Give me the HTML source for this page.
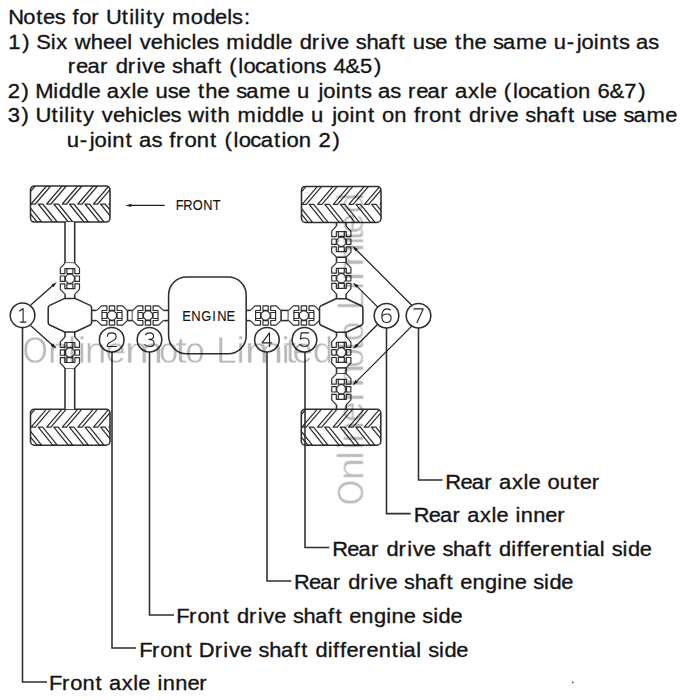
<!DOCTYPE html><html><head><meta charset="utf-8"><style>html,body{margin:0;padding:0;background:#fff;width:700px;height:700px;overflow:hidden}svg{display:block}text{font-family:"Liberation Sans",sans-serif}</style></head><body>
<svg width="700" height="700" viewBox="0 0 700 700">
<defs><g id="uj" fill="none" stroke="#2e2e2e" stroke-width="1.2" stroke-linejoin="round">
<path d="M-4.8,-15.6 L-4.8,-15.4 L-9.6,-10.3 L-9.6,9.6 L-4.8,15.4 L4.8,15.4 L9.6,10.3 L9.6,-10.3 L4.8,-15.4 Z" fill="#fff" stroke="none"/>
<path d="M-4.9,-15.5 L-9.6,-10.6 L-9.6,-5.1 L-5.0,-5.1 L-5.0,-10.0 L5.0,-10.0 L5.0,-5.1 L9.6,-5.1 L9.6,-10.6 L4.9,-15.5"/>
<path d="M-4.9,15.5 L-9.6,10.6 L-9.6,5.1 L-5.0,5.1 L-5.0,10.0 L5.0,10.0 L5.0,5.1 L9.6,5.1 L9.6,10.6 L4.9,15.5"/>
<g stroke-width="1.15">
<path d="M-3,-10 L-3,-5.1 L3,-5.1 L3,-10"/>
<path d="M-3,10 L-3,5.1 L3,5.1 L3,10"/>
<rect x="-9.6" y="-2.7" width="4.5" height="5.4"/>
<rect x="5.1" y="-2.7" width="4.5" height="5.4"/>
<path d="M-1.9,-4.5 L1.9,-4.5 L4.5,-1.9 L4.5,1.9 L1.9,4.5 L-1.9,4.5 L-4.5,1.9 L-4.5,-1.9 Z"/>
</g>
</g></defs>
<text transform="scale(1.06,1)" x="7.71 22.06 34.19 40.65 51.71 61.64 68.45 74.67 86.10 94.04 99.96 114.97 121.86 126.97 132.10 137.67 144.64 155.33 162.35 179.94 191.65 202.80 214.34 218.98 230.28" y="23.8" font-size="20.66" fill="#141414" stroke="#141414" stroke-width="0.33">Notes for Utility models:</text>
<text transform="scale(1.06,1)" x="7.73 21.10 28.21 34.27 47.82 53.03 63.75 70.48 85.73 97.28 108.42 119.98 124.86 131.78 142.32 153.74 165.73 170.12 180.60 185.30 196.38 206.35 213.38 231.38 236.54 248.19 259.80 264.50 275.81 282.68 294.05 302.28 307.49 318.04 329.34 335.70 345.77 356.91 368.97 376.02 382.66 389.41 400.85 410.64 421.95 429.25 436.00 447.55 458.86 465.21 474.59 486.86 504.42 515.73 522.47 534.71 544.05 548.54 560.24 565.24 577.66 584.08 594.04 600.03 611.62" y="48.6" font-size="20.71" fill="#141414" stroke="#141414" stroke-width="0.33">1) Six wheel vehicles middle drive shaft use the same u-joints as</text>
<text transform="scale(1.06,1)" x="63.89 71.69 82.45 94.32 102.30 109.19 120.60 128.84 134.08 144.65 155.99 162.36 172.46 183.63 195.72 202.79 209.46 216.26 224.82 229.62 240.61 250.27 262.85 269.78 274.57 286.18 297.68 307.67 314.51 325.68 339.64 352.74" y="73.1" font-size="20.77" fill="#141414" stroke="#141414" stroke-width="0.33">rear drive shaft (locations 4&amp;5)</text>
<text transform="scale(1.06,1)" x="7.26 20.38 27.51 33.36 50.20 55.37 67.06 78.70 83.42 94.76 100.77 112.97 123.98 128.70 140.04 146.81 158.28 168.10 179.45 186.77 193.54 205.13 216.48 222.85 232.25 244.57 262.18 273.52 280.29 291.98 300.45 304.95 316.69 321.71 334.16 340.60 350.60 356.60 368.23 378.23 384.85 392.65 403.41 415.29 423.27 429.27 441.48 452.49 457.20 468.54 475.35 483.92 488.72 499.71 509.37 521.95 528.88 533.67 545.29 557.01 563.72 575.03 588.97 602.10" y="97.7" font-size="20.78" fill="#141414" stroke="#141414" stroke-width="0.33">2) Middle axle use the same u joints as rear axle (location 6&amp;7)</text>
<text transform="scale(1.06,1)" x="7.32 20.37 27.50 33.45 48.53 55.45 60.58 65.74 71.33 78.34 89.08 96.02 106.59 118.03 130.05 134.44 144.94 149.65 160.76 170.75 177.49 192.93 198.53 205.30 217.04 224.09 242.12 247.29 258.97 270.61 275.32 286.65 293.41 305.09 313.55 318.05 329.77 334.79 347.23 353.89 360.39 371.99 383.70 390.54 396.91 404.79 416.39 428.83 435.49 442.38 453.78 462.02 467.25 477.81 489.14 495.51 505.60 516.76 528.85 535.92 542.57 549.33 560.80 570.61 581.94 588.31 597.71 610.01 627.60" y="122.4" font-size="20.76" fill="#141414" stroke="#141414" stroke-width="0.33">3) Utility vehicles with middle u joint on front drive shaft use same</text>
<text transform="scale(1.06,1)" x="62.90 75.22 84.63 89.14 100.92 105.96 118.46 125.15 131.18 142.85 152.88 159.75 166.14 174.06 185.72 198.22 204.90 211.74 220.33 225.15 236.18 245.88 258.50 265.46 270.27 281.92 293.69 300.50 313.67" y="147.0" font-size="20.85" fill="#141414" stroke="#141414" stroke-width="0.33">u-joint as front (location 2)</text>
<path d="M22.5,327.5 L22.5,682 L47,682" fill="none" stroke="#2e2e2e" stroke-width="1.55"/>
<text transform="scale(1.06,1)" x="46.27 58.39 66.23 77.76 90.13 96.75 102.72 114.84 125.78 130.46 141.73 148.55 153.53 165.32 176.80 188.10" y="690.4" font-size="20.64" fill="#141414" stroke="#141414" stroke-width="0.33">Front axle inner</text>
<path d="M112,352 L112,648 L136,648" fill="none" stroke="#2e2e2e" stroke-width="1.55"/>
<text transform="scale(1.06,1)" x="131.26 143.36 151.19 162.70 175.06 181.67 187.57 202.55 210.74 215.93 226.41 237.66 243.98 254.00 265.08 277.08 284.10 290.71 297.54 309.11 314.19 320.73 326.85 338.13 345.87 357.26 369.62 376.49 380.75 392.76 397.61 403.92 414.10 419.24 430.36" y="656.8" font-size="20.61" fill="#141414" stroke="#141414" stroke-width="0.33">Front Drive shaft differential side</text>
<path d="M149.5,352 L149.5,615 L174,615" fill="none" stroke="#2e2e2e" stroke-width="1.55"/>
<text transform="scale(1.06,1)" x="166.26 178.37 186.21 197.74 210.10 216.72 223.56 234.89 243.08 248.28 258.78 270.04 276.36 286.40 297.49 309.50 316.53 323.14 329.52 340.92 352.86 364.44 369.42 380.89 392.15 398.48 408.67 413.81 424.95" y="623.1" font-size="20.63" fill="#141414" stroke="#141414" stroke-width="0.33">Front drive shaft engine side</text>
<path d="M267,352 L267,581 L291.4,581" fill="none" stroke="#2e2e2e" stroke-width="1.55"/>
<text transform="scale(1.06,1)" x="277.33 291.41 302.07 313.83 321.74 328.57 339.87 348.04 353.23 363.70 374.94 381.25 391.26 402.32 414.31 421.32 427.92 434.28 445.66 457.57 469.12 474.09 485.54 496.77 503.09 513.25 518.38 529.49" y="589.3" font-size="20.58" fill="#141414" stroke="#141414" stroke-width="0.33">Rear drive shaft engine side</text>
<path d="M305,352 L305,547.4 L329.3,547.4" fill="none" stroke="#2e2e2e" stroke-width="1.55"/>
<text transform="scale(1.06,1)" x="313.46 327.54 338.20 349.96 357.86 364.68 375.99 384.16 389.34 399.81 411.04 417.35 427.36 438.42 450.41 457.41 464.01 470.84 482.38 487.46 493.99 500.10 511.36 519.09 530.47 542.80 549.67 553.92 565.91 570.75 577.06 587.23 592.35 603.46" y="555.7" font-size="20.58" fill="#141414" stroke="#141414" stroke-width="0.33">Rear drive shaft differential side</text>
<path d="M386.5,328 L386.5,513.6 L410.7,513.6" fill="none" stroke="#2e2e2e" stroke-width="1.55"/>
<text transform="scale(1.06,1)" x="390.44 404.50 415.15 426.89 434.79 440.73 452.80 463.69 468.35 479.57 486.36 491.33 503.07 514.50 525.75" y="522.1" font-size="20.55" fill="#141414" stroke="#141414" stroke-width="0.33">Rear axle inner</text>
<path d="M418.5,328 L418.5,480 L442.6,480" fill="none" stroke="#2e2e2e" stroke-width="1.55"/>
<text transform="scale(1.06,1)" x="420.16 434.33 445.06 456.90 464.86 470.85 483.02 493.99 498.70 510.01 516.50 528.11 540.50 546.97 558.31" y="488.6" font-size="20.72" fill="#141414" stroke="#141414" stroke-width="0.33">Rear axle outer</text>
<clipPath id="t1"><rect x="30.5" y="186" width="79.5" height="36" rx="4"/></clipPath>
<g clip-path="url(#t1)" fill="none" stroke="#2e2e2e" stroke-width="1.25" stroke-linejoin="round">
<path d="M-0.10,204.00 L4.10,204.00 L19.50,186.00 L15.30,186.00 Z"/>
<path d="M7.00,204.00 L11.50,204.00 L26.00,222.00 L21.50,222.00 Z"/>
<path d="M15.50,204.00 L19.70,204.00 L35.10,186.00 L30.90,186.00 Z"/>
<path d="M22.60,204.00 L27.10,204.00 L41.60,222.00 L37.10,222.00 Z"/>
<path d="M31.10,204.00 L35.30,204.00 L50.70,186.00 L46.50,186.00 Z"/>
<path d="M38.20,204.00 L42.70,204.00 L57.20,222.00 L52.70,222.00 Z"/>
<path d="M46.70,204.00 L50.90,204.00 L66.30,186.00 L62.10,186.00 Z"/>
<path d="M53.80,204.00 L58.30,204.00 L72.80,222.00 L68.30,222.00 Z"/>
<path d="M62.30,204.00 L66.50,204.00 L81.90,186.00 L77.70,186.00 Z"/>
<path d="M69.40,204.00 L73.90,204.00 L88.40,222.00 L83.90,222.00 Z"/>
<path d="M77.90,204.00 L82.10,204.00 L97.50,186.00 L93.30,186.00 Z"/>
<path d="M85.00,204.00 L89.50,204.00 L104.00,222.00 L99.50,222.00 Z"/>
<path d="M93.50,204.00 L97.70,204.00 L113.10,186.00 L108.90,186.00 Z"/>
<path d="M100.60,204.00 L105.10,204.00 L119.60,222.00 L115.10,222.00 Z"/>
<path d="M109.10,204.00 L113.30,204.00 L128.70,186.00 L124.50,186.00 Z"/>
<path d="M116.20,204.00 L120.70,204.00 L135.20,222.00 L130.70,222.00 Z"/>
<path d="M124.70,204.00 L128.90,204.00 L144.30,186.00 L140.10,186.00 Z"/>
<path d="M131.80,204.00 L136.30,204.00 L150.80,222.00 L146.30,222.00 Z"/>
</g>
<rect x="30.5" y="186" width="79.5" height="36" rx="4" fill="none" stroke="#2e2e2e" stroke-width="1.55"/>
<clipPath id="t2"><rect x="30.5" y="409.2" width="79.5" height="36" rx="4"/></clipPath>
<g clip-path="url(#t2)" fill="none" stroke="#2e2e2e" stroke-width="1.25" stroke-linejoin="round">
<path d="M-0.10,427.20 L4.10,427.20 L19.50,409.20 L15.30,409.20 Z"/>
<path d="M7.00,427.20 L11.50,427.20 L26.00,445.20 L21.50,445.20 Z"/>
<path d="M15.50,427.20 L19.70,427.20 L35.10,409.20 L30.90,409.20 Z"/>
<path d="M22.60,427.20 L27.10,427.20 L41.60,445.20 L37.10,445.20 Z"/>
<path d="M31.10,427.20 L35.30,427.20 L50.70,409.20 L46.50,409.20 Z"/>
<path d="M38.20,427.20 L42.70,427.20 L57.20,445.20 L52.70,445.20 Z"/>
<path d="M46.70,427.20 L50.90,427.20 L66.30,409.20 L62.10,409.20 Z"/>
<path d="M53.80,427.20 L58.30,427.20 L72.80,445.20 L68.30,445.20 Z"/>
<path d="M62.30,427.20 L66.50,427.20 L81.90,409.20 L77.70,409.20 Z"/>
<path d="M69.40,427.20 L73.90,427.20 L88.40,445.20 L83.90,445.20 Z"/>
<path d="M77.90,427.20 L82.10,427.20 L97.50,409.20 L93.30,409.20 Z"/>
<path d="M85.00,427.20 L89.50,427.20 L104.00,445.20 L99.50,445.20 Z"/>
<path d="M93.50,427.20 L97.70,427.20 L113.10,409.20 L108.90,409.20 Z"/>
<path d="M100.60,427.20 L105.10,427.20 L119.60,445.20 L115.10,445.20 Z"/>
<path d="M109.10,427.20 L113.30,427.20 L128.70,409.20 L124.50,409.20 Z"/>
<path d="M116.20,427.20 L120.70,427.20 L135.20,445.20 L130.70,445.20 Z"/>
<path d="M124.70,427.20 L128.90,427.20 L144.30,409.20 L140.10,409.20 Z"/>
<path d="M131.80,427.20 L136.30,427.20 L150.80,445.20 L146.30,445.20 Z"/>
</g>
<rect x="30.5" y="409.2" width="79.5" height="36" rx="4" fill="none" stroke="#2e2e2e" stroke-width="1.55"/>
<rect x="65" y="222" width="9.7" height="41.2" fill="#fff" stroke="none"/>
<path d="M65,222 L65,263.2" stroke="#2e2e2e" stroke-width="1.55" fill="none"/><path d="M74.7,222 L74.7,263.2" stroke="#2e2e2e" stroke-width="1.55" fill="none"/><path d="M65,263.2 L74.7,263.2" stroke="#2e2e2e" stroke-width="1.55" fill="none"/>
<rect x="65" y="367.9" width="9.7" height="41.3" fill="#fff" stroke="none"/>
<path d="M65,367.9 L65,409.2" stroke="#2e2e2e" stroke-width="1.55" fill="none"/><path d="M74.7,367.9 L74.7,409.2" stroke="#2e2e2e" stroke-width="1.55" fill="none"/><path d="M65,367.9 L74.7,367.9" stroke="#2e2e2e" stroke-width="1.55" fill="none"/>
<use href="#uj" x="69.9" y="278.7"/>
<use href="#uj" x="69.9" y="352.5"/>
<path d="M65.1,294.2 L65.1,299" stroke="#2e2e2e" stroke-width="1.55" fill="none"/><path d="M74.7,294.2 L74.7,299" stroke="#2e2e2e" stroke-width="1.55" fill="none"/>
<path d="M65.1,332 L65.1,337" stroke="#2e2e2e" stroke-width="1.55" fill="none"/><path d="M74.7,332 L74.7,337" stroke="#2e2e2e" stroke-width="1.55" fill="none"/>
<path d="M64.7,298.4 L75.10000000000001,298.4 L90.10000000000001,305.4 Q91.60000000000001,306.4 91.60000000000001,307.9 L91.60000000000001,322.5 Q91.60000000000001,324.0 90.10000000000001,325.0 L75.10000000000001,332.0 L64.7,332.0 L49.7,325.0 Q48.2,324.0 48.2,322.5 L48.2,307.9 Q48.2,306.4 49.7,305.4 Z" fill="#fff" stroke="#2e2e2e" stroke-width="1.55" stroke-linejoin="round"/>
<path d="M91.5,310.4 L96.5,310.4" stroke="#2e2e2e" stroke-width="1.55" fill="none"/><path d="M91.5,320.6 L96.5,320.6" stroke="#2e2e2e" stroke-width="1.55" fill="none"/>
<use href="#uj" transform="translate(112,315.5) rotate(90)"/>
<path d="M127.5,310.4 L132.5,310.4" stroke="#2e2e2e" stroke-width="1.55" fill="none"/><path d="M127.5,320.6 L132.5,320.6" stroke="#2e2e2e" stroke-width="1.55" fill="none"/><path d="M127.5,310.4 L127.5,320.6" stroke="#2e2e2e" stroke-width="1.55" fill="none"/><path d="M132.5,310.4 L132.5,320.6" stroke="#2e2e2e" stroke-width="1.55" fill="none"/>
<use href="#uj" transform="translate(148,315.5) rotate(90)"/>
<path d="M163.5,310.4 L168.6,310.4" stroke="#2e2e2e" stroke-width="1.55" fill="none"/><path d="M163.5,320.6 L168.6,320.6" stroke="#2e2e2e" stroke-width="1.55" fill="none"/>
<rect x="168.6" y="277" width="77.6" height="76.7" rx="18" fill="#fff" stroke="#2e2e2e" stroke-width="1.55"/>
<text transform="scale(0.9,1)" x="202.52 212.62 223.68 235.97 241.43 251.77" y="320.6" font-size="14.40" fill="#141414" stroke="#141414" stroke-width="0.12">ENGINE</text>
<path d="M246.2,310.4 L250.1,310.4" stroke="#2e2e2e" stroke-width="1.55" fill="none"/><path d="M246.2,320.6 L250.1,320.6" stroke="#2e2e2e" stroke-width="1.55" fill="none"/>
<use href="#uj" transform="translate(265.6,315.5) rotate(90)"/>
<path d="M281.1,310.4 L288.4,310.4" stroke="#2e2e2e" stroke-width="1.55" fill="none"/><path d="M281.1,320.6 L288.4,320.6" stroke="#2e2e2e" stroke-width="1.55" fill="none"/><path d="M281.1,310.4 L281.1,320.6" stroke="#2e2e2e" stroke-width="1.55" fill="none"/><path d="M288.4,310.4 L288.4,320.6" stroke="#2e2e2e" stroke-width="1.55" fill="none"/>
<use href="#uj" transform="translate(303.9,315.5) rotate(90)"/>
<path d="M319.4,310.4 L320,310.4" stroke="#2e2e2e" stroke-width="1.55" fill="none"/><path d="M319.4,320.6 L320,320.6" stroke="#2e2e2e" stroke-width="1.55" fill="none"/>
<clipPath id="t3"><rect x="301.5" y="186.4" width="79.5" height="36" rx="4"/></clipPath>
<g clip-path="url(#t3)" fill="none" stroke="#2e2e2e" stroke-width="1.25" stroke-linejoin="round">
<path d="M270.90,204.40 L275.10,204.40 L290.50,186.40 L286.30,186.40 Z"/>
<path d="M278.00,204.40 L282.50,204.40 L297.00,222.40 L292.50,222.40 Z"/>
<path d="M286.50,204.40 L290.70,204.40 L306.10,186.40 L301.90,186.40 Z"/>
<path d="M293.60,204.40 L298.10,204.40 L312.60,222.40 L308.10,222.40 Z"/>
<path d="M302.10,204.40 L306.30,204.40 L321.70,186.40 L317.50,186.40 Z"/>
<path d="M309.20,204.40 L313.70,204.40 L328.20,222.40 L323.70,222.40 Z"/>
<path d="M317.70,204.40 L321.90,204.40 L337.30,186.40 L333.10,186.40 Z"/>
<path d="M324.80,204.40 L329.30,204.40 L343.80,222.40 L339.30,222.40 Z"/>
<path d="M333.30,204.40 L337.50,204.40 L352.90,186.40 L348.70,186.40 Z"/>
<path d="M340.40,204.40 L344.90,204.40 L359.40,222.40 L354.90,222.40 Z"/>
<path d="M348.90,204.40 L353.10,204.40 L368.50,186.40 L364.30,186.40 Z"/>
<path d="M356.00,204.40 L360.50,204.40 L375.00,222.40 L370.50,222.40 Z"/>
<path d="M364.50,204.40 L368.70,204.40 L384.10,186.40 L379.90,186.40 Z"/>
<path d="M371.60,204.40 L376.10,204.40 L390.60,222.40 L386.10,222.40 Z"/>
<path d="M380.10,204.40 L384.30,204.40 L399.70,186.40 L395.50,186.40 Z"/>
<path d="M387.20,204.40 L391.70,204.40 L406.20,222.40 L401.70,222.40 Z"/>
<path d="M395.70,204.40 L399.90,204.40 L415.30,186.40 L411.10,186.40 Z"/>
<path d="M402.80,204.40 L407.30,204.40 L421.80,222.40 L417.30,222.40 Z"/>
</g>
<rect x="301.5" y="186.4" width="79.5" height="36" rx="4" fill="none" stroke="#2e2e2e" stroke-width="1.55"/>
<clipPath id="t4"><rect x="301.3" y="409.2" width="79.5" height="36" rx="4"/></clipPath>
<g clip-path="url(#t4)" fill="none" stroke="#2e2e2e" stroke-width="1.25" stroke-linejoin="round">
<path d="M270.70,427.20 L274.90,427.20 L290.30,409.20 L286.10,409.20 Z"/>
<path d="M277.80,427.20 L282.30,427.20 L296.80,445.20 L292.30,445.20 Z"/>
<path d="M286.30,427.20 L290.50,427.20 L305.90,409.20 L301.70,409.20 Z"/>
<path d="M293.40,427.20 L297.90,427.20 L312.40,445.20 L307.90,445.20 Z"/>
<path d="M301.90,427.20 L306.10,427.20 L321.50,409.20 L317.30,409.20 Z"/>
<path d="M309.00,427.20 L313.50,427.20 L328.00,445.20 L323.50,445.20 Z"/>
<path d="M317.50,427.20 L321.70,427.20 L337.10,409.20 L332.90,409.20 Z"/>
<path d="M324.60,427.20 L329.10,427.20 L343.60,445.20 L339.10,445.20 Z"/>
<path d="M333.10,427.20 L337.30,427.20 L352.70,409.20 L348.50,409.20 Z"/>
<path d="M340.20,427.20 L344.70,427.20 L359.20,445.20 L354.70,445.20 Z"/>
<path d="M348.70,427.20 L352.90,427.20 L368.30,409.20 L364.10,409.20 Z"/>
<path d="M355.80,427.20 L360.30,427.20 L374.80,445.20 L370.30,445.20 Z"/>
<path d="M364.30,427.20 L368.50,427.20 L383.90,409.20 L379.70,409.20 Z"/>
<path d="M371.40,427.20 L375.90,427.20 L390.40,445.20 L385.90,445.20 Z"/>
<path d="M379.90,427.20 L384.10,427.20 L399.50,409.20 L395.30,409.20 Z"/>
<path d="M387.00,427.20 L391.50,427.20 L406.00,445.20 L401.50,445.20 Z"/>
<path d="M395.50,427.20 L399.70,427.20 L415.10,409.20 L410.90,409.20 Z"/>
<path d="M402.60,427.20 L407.10,427.20 L421.60,445.20 L417.10,445.20 Z"/>
</g>
<rect x="301.3" y="409.2" width="79.5" height="36" rx="4" fill="none" stroke="#2e2e2e" stroke-width="1.55"/>
<path d="M336.5,222.4 L336.5,226.2" stroke="#2e2e2e" stroke-width="1.55" fill="none"/><path d="M346.1,222.4 L346.1,226.2" stroke="#2e2e2e" stroke-width="1.55" fill="none"/>
<use href="#uj" x="341.3" y="241.7"/>
<path d="M336.5,257.2 L336.5,262.8" stroke="#2e2e2e" stroke-width="1.55" fill="none"/><path d="M346.1,257.2 L346.1,262.8" stroke="#2e2e2e" stroke-width="1.55" fill="none"/><path d="M336.5,257.2 L346.1,257.2" stroke="#2e2e2e" stroke-width="1.55" fill="none"/><path d="M336.5,262.8 L346.1,262.8" stroke="#2e2e2e" stroke-width="1.55" fill="none"/>
<use href="#uj" x="341.3" y="278.3"/>
<path d="M336.5,293.8 L336.5,299" stroke="#2e2e2e" stroke-width="1.55" fill="none"/><path d="M346.1,293.8 L346.1,299" stroke="#2e2e2e" stroke-width="1.55" fill="none"/>
<path d="M336.0,298.7 L346.4,298.7 L361.4,305.7 Q362.9,306.7 362.9,308.2 L362.9,322.8 Q362.9,324.3 361.4,325.3 L346.4,332.3 L336.0,332.3 L321.0,325.3 Q319.5,324.3 319.5,322.8 L319.5,308.2 Q319.5,306.7 321.0,305.7 Z" fill="#fff" stroke="#2e2e2e" stroke-width="1.55" stroke-linejoin="round"/>
<path d="M336.5,332 L336.5,336.9" stroke="#2e2e2e" stroke-width="1.55" fill="none"/><path d="M346.1,332 L346.1,336.9" stroke="#2e2e2e" stroke-width="1.55" fill="none"/>
<use href="#uj" x="341.3" y="352.4"/>
<path d="M336.5,367.9 L336.5,373.8" stroke="#2e2e2e" stroke-width="1.55" fill="none"/><path d="M346.1,367.9 L346.1,373.8" stroke="#2e2e2e" stroke-width="1.55" fill="none"/><path d="M336.5,367.9 L346.1,367.9" stroke="#2e2e2e" stroke-width="1.55" fill="none"/><path d="M336.5,373.8 L346.1,373.8" stroke="#2e2e2e" stroke-width="1.55" fill="none"/>
<use href="#uj" x="341.3" y="389.3"/>
<path d="M336.5,404.8 L336.5,409.4" stroke="#2e2e2e" stroke-width="1.55" fill="none"/><path d="M346.1,404.8 L346.1,409.4" stroke="#2e2e2e" stroke-width="1.55" fill="none"/>
<path d="M164.7,205.4 L130.3,205.4" stroke="#1e1e1e" stroke-width="1.2" fill="none"/><path d="M125.30,205.40 L131.30,203.70 L131.30,207.10 Z" fill="#1e1e1e"/>
<text transform="scale(0.9,1)" x="195.33 203.74 214.30 225.77 236.42" y="210.4" font-size="14.29" fill="#141414" stroke="#141414" stroke-width="0.12">FRONT</text>
<path d="M30.8,305 L53.055017187548096,285.31286941101513" stroke="#1e1e1e" stroke-width="1.2" fill="none"/><path d="M56.80,282.00 L53.43,287.25 L51.18,284.70 Z" fill="#1e1e1e"/>
<path d="M30.8,325.8 L52.86774606793967,345.47279688227184" stroke="#1e1e1e" stroke-width="1.2" fill="none"/><path d="M56.60,348.80 L50.99,346.08 L53.25,343.54 Z" fill="#1e1e1e"/>
<path d="M383,312.4 L356.5355339059327,285.9355339059327" stroke="#1e1e1e" stroke-width="1.2" fill="none"/><path d="M353.00,282.40 L358.44,285.44 L356.04,287.84 Z" fill="#1e1e1e"/>
<path d="M383,319 L356.5355339059327,345.4644660940673" stroke="#1e1e1e" stroke-width="1.2" fill="none"/><path d="M353.00,349.00 L356.04,343.56 L358.44,345.96 Z" fill="#1e1e1e"/>
<path d="M414.5,308 L356.0355339059327,249.53553390593274" stroke="#1e1e1e" stroke-width="1.2" fill="none"/><path d="M352.50,246.00 L357.94,249.04 L355.54,251.44 Z" fill="#1e1e1e"/>
<path d="M414.5,323.4 L356.0355339059327,381.86446609406727" stroke="#1e1e1e" stroke-width="1.2" fill="none"/><path d="M352.50,385.40 L355.54,379.96 L357.94,382.36 Z" fill="#1e1e1e"/>
<circle cx="22.55" cy="315.3" r="12.3" fill="#fff" stroke="#2e2e2e" stroke-width="1.55"/><path transform="translate(22.55,315.3) scale(0.93)" d="M-3.2,-4.6 L0.6,-7.3 L0.6,7.3 M-2.4,7.3 L3.6,7.3" fill="none" stroke="#222" stroke-width="1.2" stroke-linecap="round" stroke-linejoin="round"/>
<circle cx="111.7" cy="339.7" r="12.3" fill="#fff" stroke="#2e2e2e" stroke-width="1.55"/><path transform="translate(111.7,339.7) scale(0.93)" d="M-4.6,-3.6 C-4.6,-6.2 -2.6,-7.3 0,-7.3 C2.9,-7.3 4.8,-5.7 4.8,-3.3 C4.8,-0.6 2.2,0.8 -0.8,2.3 C-3.8,3.8 -4.9,5.2 -4.9,7.3 L5.2,7.3" fill="none" stroke="#222" stroke-width="1.2" stroke-linecap="round" stroke-linejoin="round"/>
<circle cx="149.5" cy="339.7" r="12.3" fill="#fff" stroke="#2e2e2e" stroke-width="1.55"/><path transform="translate(149.5,339.7) scale(0.93)" d="M-4.4,-5.4 C-3.6,-6.7 -1.8,-7.3 0.2,-7.3 C2.8,-7.3 4.4,-5.8 4.4,-3.8 C4.4,-1.6 2.5,-0.3 -0.6,-0.3 M-0.6,-0.3 C3,-0.3 4.9,1.4 4.9,3.7 C4.9,6 2.8,7.3 0,7.3 C-2.2,7.3 -4,6.6 -5,5.2" fill="none" stroke="#222" stroke-width="1.2" stroke-linecap="round" stroke-linejoin="round"/>
<circle cx="266.9" cy="339.7" r="12.3" fill="#fff" stroke="#2e2e2e" stroke-width="1.55"/><path transform="translate(266.9,339.7) scale(0.93)" d="M2.8,7.4 L2.8,-7.3 L-5.2,3.4 L5.4,3.4" fill="none" stroke="#222" stroke-width="1.2" stroke-linecap="round" stroke-linejoin="round"/>
<circle cx="304.5" cy="339.7" r="12.3" fill="#fff" stroke="#2e2e2e" stroke-width="1.55"/><path transform="translate(304.5,339.7) scale(0.93)" d="M4.4,-7.3 L-3.6,-7.3 L-4.3,-0.6 C-3.1,-1.5 -1.6,-1.9 0,-1.9 C3,-1.9 5,0.2 5,2.8 C5,5.5 2.8,7.3 0,7.3 C-2,7.3 -3.9,6.6 -5,5.1" fill="none" stroke="#222" stroke-width="1.2" stroke-linecap="round" stroke-linejoin="round"/>
<circle cx="386.5" cy="315.7" r="12.3" fill="#fff" stroke="#2e2e2e" stroke-width="1.55"/><path transform="translate(386.5,315.7) scale(0.93)" d="M4.2,-6.1 C3.2,-7 1.9,-7.3 0.6,-7.3 C-3.2,-7.3 -5,-3.8 -5,1.2 C-5,5.1 -3,7.3 0,7.3 C3,7.3 5,5.2 5,2.5 C5,-0.2 3,-1.9 0.2,-1.9 C-2.6,-1.9 -4.5,-0.3 -5,1.6" fill="none" stroke="#222" stroke-width="1.2" stroke-linecap="round" stroke-linejoin="round"/>
<circle cx="418.5" cy="315.7" r="12.3" fill="#fff" stroke="#2e2e2e" stroke-width="1.55"/><path transform="translate(418.5,315.7) scale(0.93)" d="M-5,-7.3 L5,-7.3 L-1.6,7.4" fill="none" stroke="#222" stroke-width="1.2" stroke-linecap="round" stroke-linejoin="round"/>
<circle cx="572.7" cy="682.5" r="0.9" fill="#555"/>
<g style="mix-blend-mode:multiply"><g transform="translate(0,0)" font-size="37.0" fill="#bababa" stroke="#fff" stroke-width="0.45"><text transform="scale(0.88,1)" x="25.56" y="362.6">O</text><text transform="scale(1.06,1)" x="44.97" y="362.6">n</text><text transform="scale(1.0,1)" x="67.88" y="362.6">l</text><text transform="scale(1.0,1)" x="77.75" y="362.6">i</text><text transform="scale(1.06,1)" x="79.87" y="362.6">n</text><text transform="scale(1.0,1)" x="105.30" y="362.6">e</text><text transform="scale(1.27,1)" x="98.04" y="362.6">m</text><text transform="scale(0.95,1)" x="167.50" y="362.6">o</text><text transform="scale(1.1,1)" x="159.58" y="362.6">t</text><text transform="scale(0.95,1)" x="195.13" y="362.6">o</text><text transform="scale(1.0,1)" x="216.11" y="362.6">L</text><text transform="scale(1.0,1)" x="236.60" y="362.6">i</text><text transform="scale(1.27,1)" x="192.57" y="362.6">m</text><text transform="scale(1.0,1)" x="281.40" y="362.6">i</text><text transform="scale(1.1,1)" x="259.26" y="362.6">t</text><text transform="scale(1.0,1)" x="292.25" y="362.6">e</text><text transform="scale(1.0,1)" x="312.63" y="362.6">d</text></g><g transform="translate(0.4,527.96) rotate(-90) scale(1.0065,1)" font-size="37.0" fill="#bababa" stroke="#fff" stroke-width="0.45"><text transform="scale(0.88,1)" x="25.56" y="362.6">O</text><text transform="scale(1.06,1)" x="44.97" y="362.6">n</text><text transform="scale(1.0,1)" x="67.88" y="362.6">l</text><text transform="scale(1.0,1)" x="77.75" y="362.6">i</text><text transform="scale(1.06,1)" x="79.87" y="362.6">n</text><text transform="scale(1.0,1)" x="105.30" y="362.6">e</text><text transform="scale(1.27,1)" x="98.04" y="362.6">m</text><text transform="scale(0.95,1)" x="167.50" y="362.6">o</text><text transform="scale(1.1,1)" x="159.58" y="362.6">t</text><text transform="scale(0.95,1)" x="195.13" y="362.6">o</text><text transform="scale(1.0,1)" x="216.11" y="362.6">L</text><text transform="scale(1.0,1)" x="236.60" y="362.6">i</text><text transform="scale(1.27,1)" x="192.57" y="362.6">m</text><text transform="scale(1.0,1)" x="281.40" y="362.6">i</text><text transform="scale(1.1,1)" x="259.26" y="362.6">t</text><text transform="scale(1.0,1)" x="292.25" y="362.6">e</text><text transform="scale(1.0,1)" x="312.63" y="362.6">d</text></g></g>
</svg></body></html>
